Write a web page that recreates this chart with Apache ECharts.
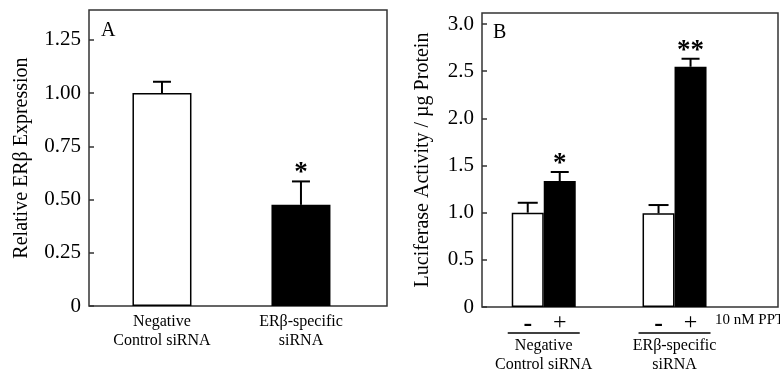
<!DOCTYPE html>
<html>
<head>
<meta charset="utf-8">
<script src="https://cdn.jsdelivr.net/npm/echarts@6/dist/echarts.min.js"></script>
<style>
  html, body { margin: 0; padding: 0; background: #fff; }
  #main { width: 780px; height: 376px; }
</style>
</head>
<body>
<div id="main"></div>
<script>
// Panel A: relative ERb expression
const catsA = ['Negative\nControl siRNA', 'ERβ-specific\nsiRNA'];
const meanA = [1.00, 0.475];
const errA = [0.053, 0.11];
const sigA = ['', '*'];
const ticksA = [0, 0.25, 0.5, 0.75, 1.0, 1.25];

// Panel B: luciferase activity, without / with 10 nM PPT
const catsB = ['Negative\nControl siRNA', 'ERβ-specific\nsiRNA'];
const meanMinus = [1.00, 0.993];
const errMinus = [0.105, 0.088];
const meanPlus = [1.336, 2.547];
const errPlus = [0.095, 0.085];
const sigPlus = ['*', '**'];
const ticksB = [0, 0.5, 1.0, 1.5, 2.0, 2.5, 3.0];

const FONT = '"Liberation Serif", "Times New Roman", serif';
const chart = echarts.init(document.getElementById('main'));

function errSeries(xi, yi, means, errs, sigs, off, halfCap) {
  return {
    type: 'custom',
    xAxisIndex: xi, yAxisIndex: yi,
    clip: false, silent: true, z: 5,
    data: means.map((m, i) => [i, m, errs[i], sigs ? sigs[i] : '']),
    renderItem: function (params, api) {
      const base = api.coord([api.value(0), api.value(1)]);
      const top = api.coord([api.value(0), api.value(1) + api.value(2)]);
      const x = base[0] + off;
      const ls = { stroke: '#000', lineWidth: 2 };
      const kids = [
        { type: 'line', shape: { x1: x, y1: base[1], x2: x, y2: top[1] }, style: ls },
        { type: 'line', shape: { x1: x - halfCap, y1: top[1], x2: x + halfCap, y2: top[1] }, style: ls }
      ];
      const s = api.value(3);
      if (s) {
        kids.push({ type: 'text', style: { text: s, x: x, y: top[1] - 8, fill: '#000',
          font: 'bold 27px ' + FONT, align: 'center', verticalAlign: 'middle' } });
      }
      return { type: 'group', children: kids };
    }
  };
}

const yLabel = { fontFamily: FONT, fontSize: 21, color: '#000', margin: 8 };

const option = {
  animation: false,
  grid: [
    { left: 89, top: 10, width: 298, height: 296, show: true, borderColor: '#333', borderWidth: 1.5 },
    { left: 482, top: 13, width: 296, height: 294, show: true, borderColor: '#333', borderWidth: 1.5 }
  ],
  xAxis: [
    { gridIndex: 0, type: 'value', min: -0.525, max: 1.619,
      splitLine: { show: false }, axisLine: { show: false, onZero: false }, axisTick: { show: false },
      axisLabel: { customValues: [0, 1], formatter: v => catsA[Math.round(v)],
        fontFamily: FONT, fontSize: 16, lineHeight: 19, color: '#000', margin: 6 } },
    { gridIndex: 1, type: 'value', min: -0.472, max: 1.791,
      splitLine: { show: false }, axisLine: { show: false, onZero: false }, axisTick: { show: false },
      axisLabel: { customValues: [0, 1], formatter: v => catsB[Math.round(v)],
        fontFamily: FONT, fontSize: 16, lineHeight: 19, color: '#000', margin: 29 } }
  ],
  yAxis: [
    { gridIndex: 0, type: 'value', min: 0, max: 1.39,
      splitLine: { show: false }, axisLine: { show: false, onZero: false },
      axisTick: { show: true, inside: true, length: 5, customValues: ticksA, lineStyle: { color: '#333', width: 1.5 } },
      axisLabel: Object.assign({ customValues: ticksA, formatter: v => v === 0 ? '0' : v.toFixed(2) }, yLabel),
      name: 'Relative ERβ Expression', nameLocation: 'middle', nameGap: 57,
      nameTextStyle: { fontFamily: FONT, fontSize: 20, color: '#000' } },
    { gridIndex: 1, type: 'value', min: 0, max: 3.117,
      splitLine: { show: false }, axisLine: { show: false, onZero: false },
      axisTick: { show: true, inside: true, length: 5, customValues: ticksB, lineStyle: { color: '#333', width: 1.5 } },
      axisLabel: Object.assign({ customValues: ticksB, formatter: v => v === 0 ? '0' : v.toFixed(1) }, yLabel),
      name: 'Luciferase Activity / µg Protein', nameLocation: 'middle', nameGap: 49,
      nameTextStyle: { fontFamily: FONT, fontSize: 20, color: '#000' } }
  ],
  graphic: [
    { type: 'text', left: 101, top: 21, style: { text: 'A', font: '20px ' + FONT, fill: '#000' } },
    { type: 'text', left: 493, top: 23, style: { text: 'B', font: '20px ' + FONT, fill: '#000' } },
    { type: 'text', left: 715, top: 313, style: { text: '10 nM PPT', font: '15px ' + FONT, fill: '#000' } }
  ],
  series: [
    { type: 'bar', xAxisIndex: 0, yAxisIndex: 0, barWidth: 59,
      data: meanA.map((m, i) => ({ value: [i, m],
        itemStyle: i === 0 ? { color: '#fff', borderColor: '#000', borderWidth: 1.5 } : { color: '#000' } })) },
    errSeries(0, 0, meanA, errA, sigA, 0, 9),
    { type: 'bar', name: '-', xAxisIndex: 1, yAxisIndex: 1, barWidth: 32, barGap: 0,
      itemStyle: { color: '#fff', borderColor: '#000', borderWidth: 1.5 },
      label: { show: true, position: 'bottom', distance: 4, formatter: '-', fontFamily: FONT, fontSize: 26, fontWeight: 'bold', color: '#000' },
      data: meanMinus.map((m, i) => [i, m]) },
    { type: 'bar', name: '+', xAxisIndex: 1, yAxisIndex: 1, barWidth: 32, barGap: 0,
      itemStyle: { color: '#000' },
      label: { show: true, position: 'bottom', distance: 4, formatter: '+', fontFamily: FONT, fontSize: 24, color: '#000' },
      data: meanPlus.map((m, i) => [i, m]) },
    errSeries(1, 1, meanMinus, errMinus, null, -16, 10),
    errSeries(1, 1, meanPlus, errPlus, sigPlus, 16, 9),
    { type: 'custom', xAxisIndex: 1, yAxisIndex: 1, clip: false, silent: true,
      data: catsB.map((c, i) => [i, 0]),
      renderItem: function (params, api) {
        const p = api.coord([api.value(0), 0]);
        return { type: 'line', shape: { x1: p[0] - 36, y1: p[1] + 26, x2: p[0] + 36, y2: p[1] + 26 },
          style: { stroke: '#000', lineWidth: 1.5 } };
      } }
  ]
};
chart.setOption(option);
</script>
</body>
</html>
